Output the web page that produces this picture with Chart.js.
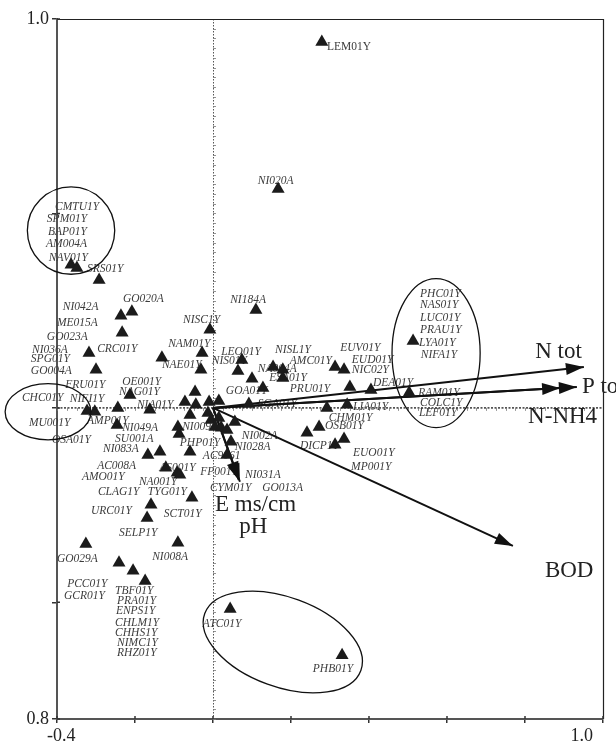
<!DOCTYPE html>
<html>
<head>
<meta charset="utf-8">
<script src="https://cdn.jsdelivr.net/npm/chart.js@4/dist/chart.umd.min.js"></script>
<style>
  html, body { margin: 0; padding: 0; background: #fff; }
  #wrap { width: 616px; height: 747px; }
</style>
</head>
<body>
<div id="wrap"><canvas id="c" width="616" height="747"></canvas></div>
<script>
// Axis ticks and their printed labels
const xTicks = [-0.4, -0.2, 0, 0.2, 0.4, 0.6, 0.8, 1.0];
const xTickText = ['-0.4', '', '', '', '', '', '', '1.0'];
const yTicks = [-0.8, -0.5, 0, 0.5, 1.0];
const yTickText = ['0.8', '', '', '', '1.0'];

// Site scores (axis 1, axis 2)
const siteX = [0.279, 0.167, -0.364, -0.349, -0.292, -0.236, -0.208, -0.233, -0.318, -0.300,
  -0.131, -0.008, -0.028, -0.031, 0.110, 0.074, 0.064, 0.100, 0.128, 0.154,
  0.179, 0.179, 0.313, 0.336, 0.351, 0.405, 0.503, 0.513, 0.092, 0.292,
  0.344, 0.272, 0.241, 0.336, 0.313, -0.213, -0.046, -0.244, -0.072, -0.323,
  -0.303, -0.246, -0.162, -0.044, -0.059, -0.010, 0.015, -0.013, -0.090, -0.087,
  -0.005, 0.015, 0.005, 0.021, 0.056, 0.036, 0.046, -0.059, -0.167, -0.136,
  0.036, -0.121, -0.092, -0.085, -0.054, -0.159, -0.169, -0.326, -0.090, -0.241,
  -0.205, -0.174, 0.044, 0.331];
const siteY = [0.941, 0.563, 0.368, 0.360, 0.329, 0.237, 0.247, 0.193, 0.141, 0.098,
  0.129, 0.201, 0.141, 0.098, 0.252, 0.123, 0.095, 0.075, 0.051, 0.105,
  0.098, 0.077, 0.105, 0.098, 0.054, 0.046, 0.039, 0.172, 0.010, 0.000,
  0.008, -0.049, -0.064, -0.080, -0.095, 0.033, 0.041, 0.000, 0.015, -0.008,
  -0.010, -0.044, -0.005, 0.008, -0.018, 0.015, 0.018, -0.013, -0.049, -0.067,
  -0.031, -0.026, -0.049, -0.051, -0.036, -0.057, -0.087, -0.113, -0.121, -0.113,
  -0.121, -0.154, -0.167, -0.172, -0.231, -0.249, -0.283, -0.350, -0.347, -0.398,
  -0.419, -0.445, -0.517, -0.636];

// Site names and where each name is written (left edge, middle)
const siteNames = ['NI020A', 'CMTU1Y', 'SPM01Y', 'BAP01Y', 'AM004A', 'NAV01Y', 'SRS01Y', 'GO020A',
  'NI042A', 'ME015A', 'GO023A', 'CRC01Y', 'NI036A', 'SPG01Y', 'GO004A', 'NISC1Y', 'NAM01Y',
  'NAE01Y', 'LEO01Y', 'NIS01Y', 'NI184A', 'NISL1Y', 'EUV01Y', 'AMC01Y', 'EUD01Y', 'NIC02Y',
  'DEA01Y', 'NA004A', 'ESA01Y', 'GOA01Y', 'PRU01Y', 'SGA01Y', 'CHM01Y', 'OSB01Y', 'LIA01Y',
  'DICP1Y', 'EUO01Y', 'MP001Y', 'NI002A', 'NI028A', 'AC9061', 'FP001Y', 'NI031A', 'CYM01Y',
  'GO013A', 'NI009A', 'PHP01Y', 'NI049A', 'SU001A', 'NI083A', 'AC008A', 'AMO01Y', 'AS001Y',
  'NA001Y', 'CLAG1Y', 'TYG01Y', 'URC01Y', 'SCT01Y', 'FRU01Y', 'NIFI1Y', 'OE001Y', 'NAG01Y',
  'NIA01Y', 'AMP01Y', 'OSA01Y', 'CHC01Y', 'MU001Y', 'SELP1Y', 'GO029A', 'NI008A', 'PCC01Y',
  'GCR01Y', 'TBF01Y', 'PRA01Y', 'ENPS1Y', 'CHLM1Y', 'CHHS1Y', 'NIMC1Y', 'RHZ01Y', 'ATC01Y',
  'PHB01Y', 'PHC01Y', 'NAS01Y', 'LUC01Y', 'PRAU1Y', 'LYA01Y', 'NIFA1Y', 'RAM01Y', 'COLC1Y',
  'LEF01Y'];
const siteLabelX = [0.115, -0.405, -0.426, -0.423, -0.428, -0.421, -0.323, -0.231,
  -0.385, -0.400, -0.426, -0.297, -0.464, -0.467, -0.467, -0.077, -0.115,
  -0.131, 0.021, -0.003, 0.044, 0.159, 0.326, 0.197, 0.356, 0.356,
  0.410, 0.115, 0.144, 0.033, 0.197, 0.115, 0.297, 0.287, 0.359,
  0.223, 0.359, 0.354, 0.074, 0.056, -0.026, -0.033, 0.082, -0.008,
  0.126, -0.079, -0.085, -0.233, -0.251, -0.282, -0.297, -0.336, -0.138,
  -0.190, -0.295, -0.167, -0.313, -0.126, -0.379, -0.367, -0.233, -0.241,
  -0.195, -0.323, -0.413, -0.490, -0.472, -0.241, -0.400, -0.156, -0.374,
  -0.382, -0.251, -0.246, -0.249, -0.251, -0.251, -0.246, -0.246, -0.026,
  0.256, 0.531, 0.531, 0.531, 0.531, 0.528, 0.533, 0.526, 0.531,
  0.528];
const siteLabelY = [0.584, 0.517, 0.486, 0.453, 0.422, 0.386, 0.357, 0.280,
  0.260, 0.219, 0.183, 0.152, 0.149, 0.126, 0.095, 0.226, 0.165,
  0.111, 0.144, 0.121, 0.278, 0.149, 0.154, 0.121, 0.123, 0.098,
  0.064, 0.100, 0.077, 0.044, 0.049, 0.010, -0.026, -0.046, 0.003,
  -0.098, -0.116, -0.152, -0.072, -0.100, -0.123, -0.165, -0.172, -0.206,
  -0.206, -0.049, -0.090, -0.051, -0.080, -0.105, -0.149, -0.177, -0.154,
  -0.190, -0.216, -0.216, -0.265, -0.273, 0.059, 0.023, 0.067, 0.041,
  0.008, -0.033, -0.082, 0.026, -0.039, -0.321, -0.388, -0.383, -0.453,
  -0.483, -0.471, -0.496, -0.522, -0.553, -0.579, -0.604, -0.630, -0.555,
  -0.671, 0.293, 0.265, 0.231, 0.201, 0.167, 0.136, 0.039, 0.013,
  -0.013];

// The one site written in upright type
const uprightName = 'LEM01Y';
const uprightLabelX = 0.292;
const uprightLabelY = 0.928;

// Environmental variables (arrow tips) and their captions
const varNames = ['N tot', 'P tot', 'N-NH4', 'BOD', 'E ms/cm', 'pH'];
const varX = [0.951, 0.933, 0.890, 0.769, 0.069, 0.066];
const varY = [0.105, 0.054, 0.051, -0.355, -0.190, -0.185];
const varLabelX = [0.826, 0.946, 0.808, 0.851, 0.005, 0.067];
const varLabelY = [0.144, 0.054, -0.023, -0.419, -0.249, -0.306];

// Grouping ellipses: centre, semi-axes (x units) and tilt in degrees
const groupCx = [-0.364, -0.423, 0.572, 0.179];
const groupCy = [0.456, -0.010, 0.141, -0.602];
const groupRx = [0.112, 0.110, 0.113, 0.213];
const groupRy = [0.112, 0.072, 0.191, 0.115];
const groupTilt = [0, 0, 0, 20];

const SERIF = '"Liberation Serif", "DejaVu Serif", serif';

const biplotDecor = {
  id: 'biplotDecor',
  beforeDatasetsDraw(chart) {
    const { ctx, chartArea: a, scales: { x, y } } = chart;
    const x0 = x.getPixelForValue(0);
    const y0 = y.getPixelForValue(0);
    ctx.save();
    // dotted zero axes with small ticks
    ctx.strokeStyle = '#555';
    ctx.lineWidth = 1;
    ctx.setLineDash([1.5, 1.5]);
    ctx.beginPath();
    ctx.moveTo(x0 + 0.5, a.top); ctx.lineTo(x0 + 0.5, a.bottom);
    ctx.stroke();
    ctx.lineWidth = 1.6;
    ctx.setLineDash([2, 1.5]);
    ctx.beginPath();
    ctx.moveTo(a.left, y0); ctx.lineTo(a.right, y0);
    ctx.stroke();
    ctx.setLineDash([]);
    ctx.lineWidth = 0.8;
    ctx.strokeStyle = '#777';
    ctx.beginPath();
    for (let v = -0.8; v <= 1.0001; v += 0.025) {
      const py = Math.round(y.getPixelForValue(v)) + 0.5;
      ctx.moveTo(x0, py); ctx.lineTo(x0 + 3, py);
    }
    for (let v = -0.4; v <= 1.0001; v += 0.025) {
      const px = Math.round(x.getPixelForValue(v)) + 0.5;
      ctx.moveTo(px, y0); ctx.lineTo(px, y0 + 3);
    }
    ctx.stroke();

    // site names (drawn under the markers)
    ctx.fillStyle = '#3c3c3c';
    ctx.textBaseline = 'middle';
    ctx.textAlign = 'left';
    ctx.font = 'italic 11.5px ' + SERIF;
    siteNames.forEach((n, i) => {
      ctx.fillText(n, x.getPixelForValue(siteLabelX[i]), y.getPixelForValue(siteLabelY[i]));
    });
    ctx.font = '11.5px ' + SERIF;
    ctx.fillText(uprightName, x.getPixelForValue(uprightLabelX), y.getPixelForValue(uprightLabelY));
    ctx.restore();
  },
  afterDatasetsDraw(chart) {
    const { ctx, chartArea: a, scales: { x, y } } = chart;
    const pxPerUnit = x.getPixelForValue(1) - x.getPixelForValue(0);
    ctx.save();
    // top and right frame
    ctx.strokeStyle = '#222';
    ctx.lineWidth = 1.2;
    ctx.beginPath();
    ctx.moveTo(a.left, a.top + 0.5); ctx.lineTo(a.right + 0.5, a.top + 0.5); ctx.lineTo(a.right + 0.5, a.bottom);
    ctx.stroke();

    // inner halves of the axis tick marks, so the ticks cross the axis lines
    ctx.strokeStyle = '#333';
    ctx.lineWidth = 1.5;
    ctx.beginPath();
    xTicks.forEach(v => {
      const px = x.getPixelForValue(v);
      ctx.moveTo(px, a.bottom); ctx.lineTo(px, a.bottom - 3);
    });
    yTicks.forEach(v => {
      const py = y.getPixelForValue(v);
      ctx.moveTo(a.left, py); ctx.lineTo(a.left + 3, py);
    });
    ctx.stroke();

    // arrowheads
    ctx.fillStyle = '#111';
    const x0 = x.getPixelForValue(0), y0 = y.getPixelForValue(0);
    varNames.forEach((n, i) => {
      const tx = x.getPixelForValue(varX[i]), ty = y.getPixelForValue(varY[i]);
      const ang = Math.atan2(ty - y0, tx - x0);
      const L = 18, W = 6;
      ctx.beginPath();
      ctx.moveTo(tx, ty);
      ctx.lineTo(tx - L * Math.cos(ang) + W * Math.sin(ang), ty - L * Math.sin(ang) - W * Math.cos(ang));
      ctx.lineTo(tx - L * Math.cos(ang) - W * Math.sin(ang), ty - L * Math.sin(ang) + W * Math.cos(ang));
      ctx.closePath();
      ctx.fill();
    });

    // variable captions
    ctx.fillStyle = '#222';
    ctx.font = '23px ' + SERIF;
    ctx.textBaseline = 'middle';
    ctx.textAlign = 'left';
    varNames.forEach((n, i) => {
      ctx.fillText(n, x.getPixelForValue(varLabelX[i]), y.getPixelForValue(varLabelY[i]));
    });

    // group ellipses
    ctx.strokeStyle = '#111';
    ctx.lineWidth = 1.3;
    groupCx.forEach((cx, i) => {
      ctx.beginPath();
      ctx.ellipse(x.getPixelForValue(cx), y.getPixelForValue(groupCy[i]),
        groupRx[i] * pxPerUnit, groupRy[i] * pxPerUnit, groupTilt[i] * Math.PI / 180, 0, Math.PI * 2);
      ctx.stroke();
    });
    ctx.restore();
  }
};

const vectorSets = varNames.map((n, i) => ({
  label: n,
  type: 'line',
  data: [{ x: 0, y: 0 }, { x: varX[i], y: varY[i] }],
  borderColor: '#111',
  borderWidth: 2,
  pointRadius: 0,
  fill: false,
  order: 2
}));

new Chart(document.getElementById('c'), {
  type: 'scatter',
  data: {
    datasets: [{
      label: 'sites',
      data: siteX.map((v, i) => ({ x: v, y: siteY[i] })),
      pointStyle: 'triangle',
      radius: 7.5,
      backgroundColor: '#1b1b1b',
      borderColor: '#1b1b1b',
      borderWidth: 0,
      order: 1
    }, ...vectorSets]
  },
  options: {
    responsive: false,
    animation: false,
    devicePixelRatio: 1,
    layout: { padding: { top: 19, right: 13, left: 0, bottom: 0 } },
    plugins: { legend: { display: false }, tooltip: { enabled: false } },
    scales: {
      x: {
        type: 'linear', min: -0.4, max: 1.0,
        afterBuildTicks: s => { s.ticks = xTicks.map(v => ({ value: v })); },
        afterFit: s => { s.height = 28; },
        ticks: {
          callback: (v, i) => xTickText[i],
          font: { family: SERIF, size: 18 }, color: '#222',
          align: 'inner', labelOffset: -10, maxRotation: 0, autoSkip: false, padding: 2
        },
        grid: { drawOnChartArea: false, tickLength: 4, color: '#333', lineWidth: 1.5 },
        border: { color: '#555', width: 2 }
      },
      y: {
        type: 'linear', min: -0.8, max: 1.0,
        afterBuildTicks: s => { s.ticks = yTicks.map(v => ({ value: v })); },
        afterFit: s => { s.width = 57; },
        ticks: {
          callback: (v, i) => yTickText[i],
          font: { family: SERIF, size: 18 }, color: '#222', autoSkip: false, padding: 3
        },
        grid: { drawOnChartArea: false, tickLength: 5, color: '#333', lineWidth: 1.5 },
        border: { color: '#555', width: 2 }
      }
    }
  },
  plugins: [biplotDecor]
});
</script>
</body>
</html>
